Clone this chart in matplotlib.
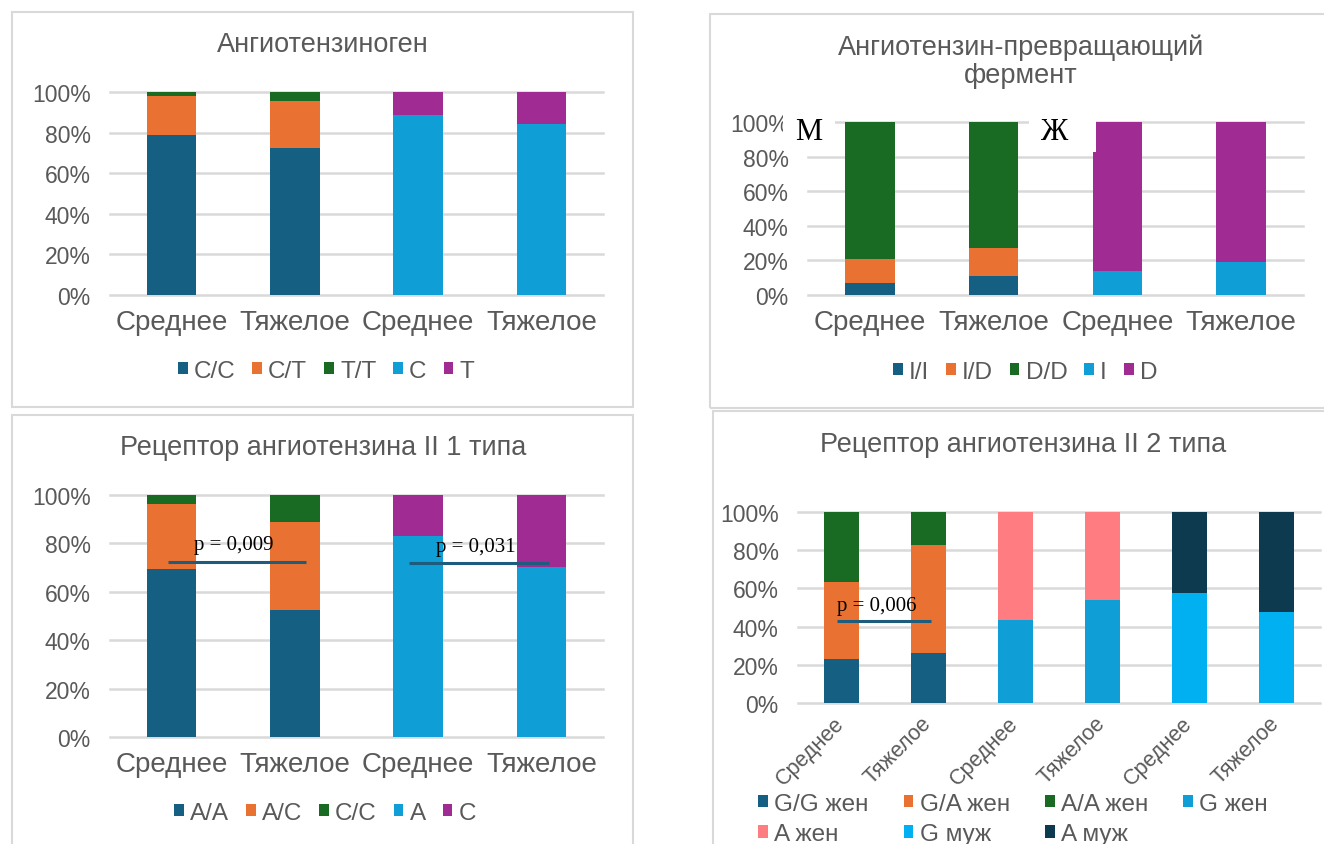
import numpy as np
import matplotlib
matplotlib.use("Agg")
import matplotlib.pyplot as plt
from matplotlib.patches import Rectangle

plt.rcParams['font.family'] = ['Liberation Sans', 'DejaVu Sans']

# ------------ données ------------
cats4 = ['Среднее', 'Тяжелое', 'Среднее', 'Тяжелое']
cats6 = ['Среднее', 'Тяжелое', 'Среднее', 'Тяжелое', 'Среднее', 'Тяжелое']

# Ангиотензиноген (%)
agt_labels = ['C/C', 'C/T', 'T/T', 'C', 'T']
agt_cc = [78.6, 72.5, 0, 0]
agt_ct = [19.6, 22.9, 0, 0]
agt_tt = [1.8, 4.6, 0, 0]
agt_c = [0, 0, 88.5, 84.2]
agt_t = [0, 0, 11.5, 15.8]

# АПФ (%)
ace_labels = ['I/I', 'I/D', 'D/D', 'I', 'D']
ace_ii = [6.7, 10.8, 0, 0]
ace_id = [14.3, 16.2, 0, 0]
ace_dd = [79.0, 73.0, 0, 0]
ace_i = [0, 0, 14.1, 18.9]
ace_d = [0, 0, 85.9, 81.1]

# AT1 (%)
at1_labels = ['A/A', 'A/C', 'C/C', 'A', 'C']
at1_aa = [69.3, 52.3, 0, 0]
at1_ac = [26.8, 36.4, 0, 0]
at1_cc = [3.9, 11.3, 0, 0]
at1_a = [0, 0, 82.9, 70.3]
at1_c = [0, 0, 17.1, 29.7]
at1_p = ['p = 0,009', 'p = 0,031']

# AT2 (%)
at2_labels = ['G/G жен', 'G/A жен', 'A/A жен', 'G жен', 'A жен', 'G муж', 'A муж']
at2_gg_f = [23.0, 26.0, 0, 0, 0, 0]
at2_ga_f = [40.4, 56.7, 0, 0, 0, 0]
at2_aa_f = [36.6, 17.3, 0, 0, 0, 0]
at2_g_f = [0, 0, 43.3, 54.1, 0, 0]
at2_a_f = [0, 0, 56.7, 45.9, 0, 0]
at2_g_m = [0, 0, 0, 0, 57.6, 47.6]
at2_a_m = [0, 0, 0, 0, 42.4, 52.4]
at2_p = 'p = 0,006'

# ------------ style ------------
DARK_BLUE = '#156082'
ORANGE = '#E97132'
GREEN = '#196B24'
LIGHT_BLUE = '#0F9ED5'
PURPLE = '#A02B93'
SALMON = '#FF7C80'
SKY = '#00B0F0'
NAVY = '#0E3A50'
TEXT = '#595959'
GRID = '#D9D9D9'
PLINE = '#1D5C7D'
SERIF = ['Liberation Serif', 'DejaVu Serif']

W, H = 1324, 845
fig = plt.figure(figsize=(W / 100, H / 100), dpi=100)


def px_axes(left, top, right, bottom):
    return fig.add_axes([left / W, 1 - bottom / H, (right - left) / W, (bottom - top) / H])


def px_box(left, top, right, bottom, **kw):
    r = Rectangle((left / W, 1 - bottom / H), (right - left) / W, (bottom - top) / H,
                  transform=fig.transFigure, **kw)
    fig.patches.append(r)


def style_axes(ax, cats, rot=False):
    n = len(cats)
    ax.set_xlim(-0.5, n - 0.5)
    ax.set_ylim(0, 100)
    ax.set_yticks(range(0, 101, 20))
    ax.set_yticklabels([f"{v}%" for v in range(0, 101, 20)])
    ax.set_xticks(range(n))
    for s in ax.spines.values():
        s.set_visible(False)
    ax.grid(axis='y', color=GRID, lw=1.8)
    ax.set_axisbelow(True)
    for ln in ax.get_ygridlines():
        ln.set_clip_on(False)
    ax.tick_params(axis='y', length=0, colors=TEXT, labelsize=16.5, pad=14)
    if rot:
        ax.set_xticklabels(cats, rotation=45, ha='right', va='center', rotation_mode='anchor')
        ax.tick_params(axis='x', length=0, colors=TEXT, labelsize=15.5, pad=12)
    else:
        ax.set_xticklabels(cats)
        ax.tick_params(axis='x', length=0, colors=TEXT, labelsize=20, pad=10)


def stacked(ax, series, colors, labels):
    x = np.arange(len(series[0]))
    bottom = np.zeros(len(x))
    handles = []
    for vals, c, lab in zip(series, colors, labels):
        vals = np.asarray(vals, dtype=float)
        h = ax.bar(x, vals, 0.4, bottom=bottom, color=c, lw=0, label=lab, zorder=2)
        bottom += vals
        handles.append(h)
    return handles


def legend(handles, labels, cx, cy, ncol, colsp=0.7, rowsp=0.4):
    fig.legend(handles, labels, loc='center', bbox_to_anchor=(cx / W, 1 - cy / H),
               ncol=ncol, frameon=False, fontsize=17.5, labelcolor=TEXT,
               handlelength=0.4, handleheight=0.4, handletextpad=0.25,
               columnspacing=colsp, labelspacing=rowsp)


def p_mark(ax, x0, x1, y, text, tx, ty):
    ax.plot([x0, x1], [y, y], color=PLINE, lw=2.2, zorder=3, solid_capstyle='butt')
    ax.text(tx, ty, text, ha='center', va='center', fontsize=15,
            family=SERIF, color='black', zorder=4)


# рамки диаграмм
for b in [(12, 13, 633, 408), (710, 15, 1330, 409), (12, 416, 633, 860), (713, 412, 1330, 860)]:
    px_box(*b, fill=False, ec=GRID, lw=1.5)

# --- Ангиотензиноген ---
ax1 = px_axes(110, 93, 603, 296)
h1 = stacked(ax1, [agt_cc, agt_ct, agt_tt, agt_c, agt_t],
             [DARK_BLUE, ORANGE, GREEN, LIGHT_BLUE, PURPLE], agt_labels)
style_axes(ax1, cats4)
fig.text(323 / W, 1 - 45 / H, 'Ангиотензиноген', ha='center', va='center', fontsize=19.5, color=TEXT)
legend(h1, agt_labels, 326, 372, 5)

# --- АПФ ---
ax2 = px_axes(808, 123, 1303, 296)
h2 = stacked(ax2, [ace_ii, ace_id, ace_dd, ace_i, ace_d],
             [DARK_BLUE, ORANGE, GREEN, LIGHT_BLUE, PURPLE], ace_labels)
style_axes(ax2, cats4)
fig.text(1021 / W, 1 - 62 / H, 'Ангиотензин-превращающий\nфермент', ha='center', va='center',
         fontsize=19.5, color=TEXT, linespacing=1.1)
legend(h2, ace_labels, 1025, 373, 5)

# подписи групп поверх сетки
px_box(783, 106, 835, 152, fc='white', ec='none', zorder=5)
px_box(1029, 106, 1096, 153, fc='white', ec='none', zorder=5)
fig.text(809 / W, 1 - 133 / H, 'М', ha='center', va='center', fontsize=22,
         family=SERIF, color='black', zorder=6)
fig.text(1054 / W, 1 - 133 / H, 'Ж', ha='center', va='center', fontsize=22,
         family=SERIF, color='black', zorder=6)

# --- AT1 ---
ax3 = px_axes(110, 496, 603, 738)
h3 = stacked(ax3, [at1_aa, at1_ac, at1_cc, at1_a, at1_c],
             [DARK_BLUE, ORANGE, GREEN, LIGHT_BLUE, PURPLE], at1_labels)
style_axes(ax3, cats4)
p_mark(ax3, -0.03, 1.09, 72.5, at1_p[0], 0.5, 79.5)
p_mark(ax3, 1.93, 3.06, 71.7, at1_p[1], 2.47, 78.8)
fig.text(323 / W, 1 - 448 / H, 'Рецептор ангиотензина II 1 типа', ha='center', va='center',
         fontsize=19.5, color=TEXT)
legend(h3, at1_labels, 325, 814, 5)

# --- AT2 ---
ax4 = px_axes(798, 513, 1320, 704)
h4 = stacked(ax4, [at2_gg_f, at2_ga_f, at2_aa_f, at2_g_f, at2_a_f, at2_g_m, at2_a_m],
             [DARK_BLUE, ORANGE, GREEN, LIGHT_BLUE, SALMON, SKY, NAVY], at2_labels)
style_axes(ax4, cats6, rot=True)
p_mark(ax4, -0.046, 1.03, 43.1, at2_p, 0.41, 51.1)
fig.text(1023 / W, 1 - 445 / H, 'Рецептор ангиотензина II 2 типа', ha='center', va='center',
         fontsize=19.5, color=TEXT)
# порядок для заполнения по строкам (4 колонки)
order = [0, 4, 1, 5, 2, 6, 3]
legend([h4[i] for i in order], [at2_labels[i] for i in order], 1013, 820, 4, colsp=1.45, rowsp=0.35)

fig.savefig('out.png', dpi=100)
